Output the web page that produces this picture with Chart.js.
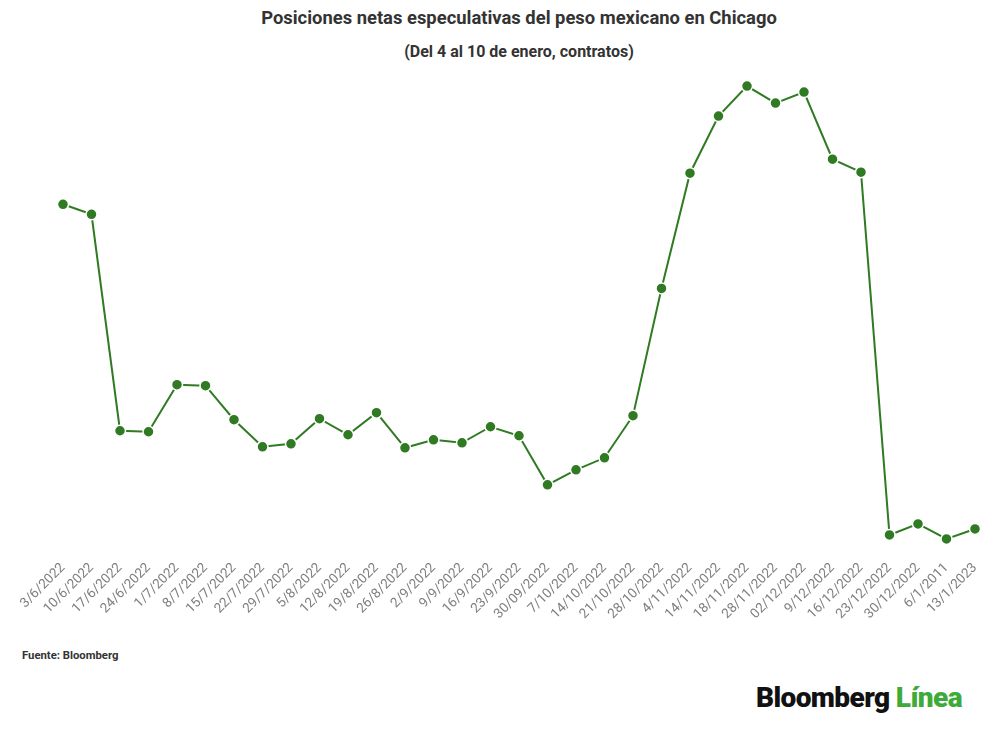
<!DOCTYPE html>
<html>
<head>
<meta charset="utf-8">
<script src="https://cdn.jsdelivr.net/npm/chart.js@4"></script>
<style>
    body { margin: 0; background: #fff; font-family: Roboto, sans-serif; }
    #page { position: relative; width: 1000px; height: 732px; overflow: hidden; }
    .title { position: absolute; left: 63px; width: 912px; text-align: center; color: #333; font-weight: bold; }
    #chartBox { position: absolute; left: 0; top: 64px; width: 1000px; height: 558px; }
    #fuente { position: absolute; left: 22px; top: 649px; font-size: 11.3px; font-weight: bold; color: #333; }
    #logo { position: absolute; left: 756px; top: 681px; font-size: 28px; font-weight: 900; letter-spacing: -0.6px; color: #111; }
    #logo span { color: #3daa3a; }
</style>
</head>
<body>
<div id="page">
    <div class="title" style="top:7px;font-size:18.4px;">Posiciones netas especulativas del peso mexicano en Chicago</div>
    <div class="title" style="top:42px;font-size:16px;">(Del 4 al 10 de enero, contratos)</div>
    <div id="chartBox"><canvas id="posChart"></canvas></div>
    <div id="fuente">Fuente: Bloomberg</div>
    <div id="logo">Bloomberg <span>Línea</span></div>
</div>
<script>
// Semanas (tal como aparecen en el eje)
const fechas = ['3/6/2022', '10/6/2022', '17/6/2022', '24/6/2022', '1/7/2022', '8/7/2022',
    '15/7/2022', '22/7/2022', '29/7/2022', '5/8/2022', '12/8/2022', '19/8/2022', '26/8/2022',
    '2/9/2022', '9/9/2022', '16/9/2022', '23/9/2022', '30/09/2022', '7/10/2022', '14/10/2022',
    '21/10/2022', '28/10/2022', '4/11/2022', '14/11/2022', '18/11/2022', '28/11/2022',
    '02/12/2022', '9/12/2022', '16/12/2022', '23/12/2022', '30/12/2022', '6/1/2011', '13/1/2023'];

// Posiciones netas (escala relativa, sin eje en el original)
const posicionesNetas = [397, 387, 171, 170, 217, 216, 182, 155, 158, 183, 167, 189, 154,
    162, 159, 175, 166, 117, 132, 144, 186, 313, 428, 485, 515, 498, 509, 442, 429, 67, 78, 63, 73];

const yMin = 50;
const yMax = 530;
const verde = '#2f7a22';

const ctx = document.getElementById('posChart').getContext('2d');
new Chart(ctx, {
    type: 'line',
    data: {
        labels: fechas,
        datasets: [{
            label: 'Posiciones netas',
            data: posicionesNetas,
            borderColor: verde,
            borderWidth: 2,
            backgroundColor: verde,
            pointBackgroundColor: verde,
            pointBorderColor: '#fff',
            pointBorderWidth: 1.5,
            pointRadius: 5.5,
            tension: 0
        }]
    },
    options: {
        responsive: true,
        maintainAspectRatio: false,
        animation: false,
        layout: {
            padding: { left: 63, right: 25, top: 0, bottom: 0 }
        },
        plugins: {
            legend: { display: false },
            tooltip: { enabled: false }
        },
        scales: {
            y: {
                display: false,
                min: yMin,
                max: yMax
            },
            x: {
                offset: false,
                grid: { display: false },
                border: { display: false },
                ticks: {
                    color: '#808080',
                    font: { family: 'Roboto', size: 13.5 },
                    minRotation: 45,
                    maxRotation: 45,
                    autoSkip: false,
                    padding: 0
                },
                afterFit: function(scale) {
                    scale.height = 70;
                }
            }
        }
    }
});
</script>
</body>
</html>
